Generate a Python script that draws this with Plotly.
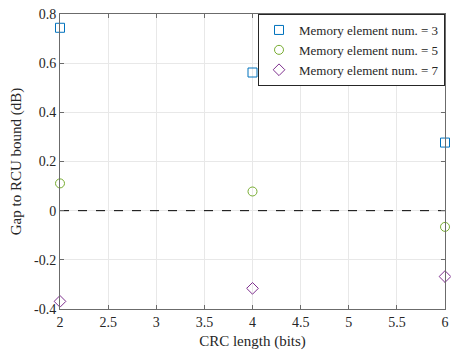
import plotly.graph_objects as go

# data
crc_len = [2, 4, 6]
gap_m3 = [0.744, 0.562, 0.277]
gap_m5 = [0.111, 0.078, -0.066]
gap_m7 = [-0.369, -0.316, -0.268]

x_ticks = [2, 2.5, 3, 3.5, 4, 4.5, 5, 5.5, 6]
x_labels = ["2", "2.5", "3", "3.5", "4", "4.5", "5", "5.5", "6"]
y_ticks = [-0.4, -0.2, 0, 0.2, 0.4, 0.6, 0.8]
y_labels = ["-0.4", "-0.2", "0", "0.2", "0.4", "0.6", "0.8"]

series = [
    ("Memory element num. = 3", gap_m3, "#0072BD", "square-open"),
    ("Memory element num. = 5", gap_m5, "#77AC30", "circle-open"),
    ("Memory element num. = 7", gap_m7, "#7E2F8E", "diamond-open"),
]

font = "Liberation Serif"

fig = go.Figure()
for name, vals, color, sym in series:
    fig.add_trace(go.Scatter(
        x=crc_len, y=vals, mode="markers", name=name,
        marker=dict(symbol=sym, size=9, color=color, line=dict(color=color, width=1)),
        cliponaxis=False,
    ))

# reference line at zero
fig.add_trace(go.Scatter(
    x=[crc_len[0], crc_len[-1]], y=[0, 0], mode="lines", showlegend=False,
    line=dict(color="black", width=1, dash="dash"), hoverinfo="skip",
))

axis_common = dict(
    showline=True, linecolor="#6b6b6b", linewidth=1, mirror="ticks",
    ticks="inside", ticklen=4, tickcolor="#6b6b6b",
    showgrid=True, gridcolor="#e8e8e8", gridwidth=1, zeroline=False,
    tickfont=dict(family=font, size=14, color="#262626"),
    ticklabeloverflow="allow",
    automargin=False,
)

# page body adds 8px offset, so the figure is a bit smaller than the window
fig.update_layout(
    width=451, height=348,
    margin=dict(l=52, r=14, t=6, b=47),
    paper_bgcolor="white", plot_bgcolor="white",
    font=dict(family=font, size=14, color="#262626"),
    xaxis=dict(range=[2, 6], tickvals=x_ticks, ticktext=x_labels,
               title=dict(text="CRC length (bits)", font=dict(size=15), standoff=6),
               **axis_common),
    yaxis=dict(range=[-0.4, 0.8], tickvals=y_ticks, ticktext=y_labels,
               title=dict(text="Gap to RCU bound (dB)", font=dict(size=15), standoff=8),
               **axis_common),
    legend=dict(x=1, y=1, xanchor="right", yanchor="top",
                bgcolor="white", bordercolor="#262626", borderwidth=1,
                font=dict(family=font, size=13), tracegroupgap=0,
                itemwidth=30),
)

fig.write_html("out.html")
